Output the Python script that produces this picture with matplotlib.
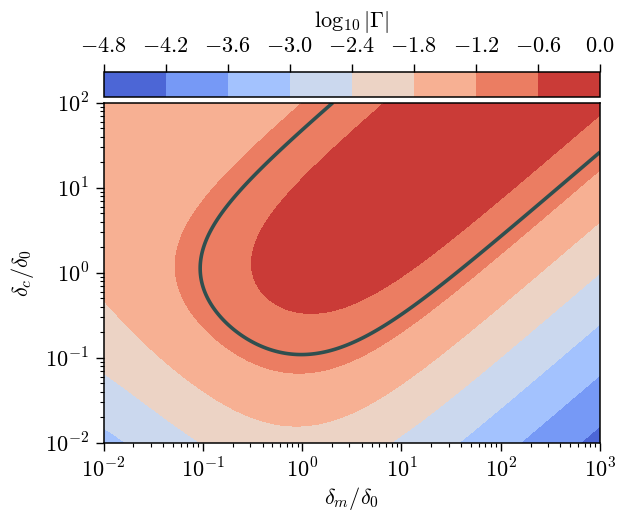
import numpy as np
import matplotlib
matplotlib.use("Agg")
import matplotlib.pyplot as plt
from matplotlib import ticker

plt.rcParams['mathtext.fontset'] = 'cm'
plt.rcParams['axes.linewidth'] = 1.1

# ---- data ----
levels = [-4.8, -4.2, -3.6, -3.0, -2.4, -1.8, -1.2, -0.6, 0.0]
cbar_labels = [r'$-4.8$', r'$-4.2$', r'$-3.6$', r'$-3.0$', r'$-2.4$',
               r'$-1.8$', r'$-1.2$', r'$-0.6$', r'$0.0$']
x_ticks = [1e-2, 1e-1, 1e0, 1e1, 1e2, 1e3]
x_ticklabels = [r'$10^{-2}$', r'$10^{-1}$', r'$10^{0}$', r'$10^{1}$', r'$10^{2}$', r'$10^{3}$']
y_ticks = [1e-2, 1e-1, 1e0, 1e1, 1e2]
y_ticklabels = [r'$10^{-2}$', r'$10^{-1}$', r'$10^{0}$', r'$10^{1}$', r'$10^{2}$']
x_range = [1e-2, 1e3]      # delta_m / delta_0
y_range = [1e-2, 1e2]      # delta_c / delta_0
# coupling-model coefficients: offset, x-loss, y-loss, leak amplitude, leak scale
coef = [0.75, 2.2, 2.0, 0.026, 1.5]
marked_level = [-1.0]

# ---- field ----
a, b, c, e, f = coef
xm = np.logspace(np.log10(x_range[0]), np.log10(x_range[1]), 700)
yc = np.logspace(np.log10(y_range[0]), np.log10(y_range[1]), 560)
X, Y = np.meshgrid(xm, yc)
main = 4 * X * Y / ((X + Y) ** 2 + a + b * X + c * Y)
leak = e * Y / (X + Y + f)
G = main + leak * (1 - main)
Z = np.log10(G)

# ---- figure ----
fig = plt.figure(figsize=(6.17, 5.11), dpi=100)
ax = fig.add_axes([103.5 / 617, 1 - 442.7 / 511, (600 - 103.5) / 617, (442.7 - 102.7) / 511])
cf = ax.contourf(X, Y, Z, levels=levels, cmap='coolwarm')
ax.contour(X, Y, Z, levels=marked_level, colors='#2f4f4f', linewidths=2.6,
           linestyles='solid')
ax.set_xscale('log')
ax.set_yscale('log')
ax.set_xlim(*x_range)
ax.set_ylim(*y_range)

ax.xaxis.set_major_locator(ticker.FixedLocator(x_ticks))
ax.xaxis.set_major_formatter(ticker.FixedFormatter(x_ticklabels))
ax.yaxis.set_major_locator(ticker.FixedLocator(y_ticks))
ax.yaxis.set_major_formatter(ticker.FixedFormatter(y_ticklabels))
ax.xaxis.set_minor_locator(ticker.LogLocator(base=10, subs=np.arange(2, 10), numticks=20))
ax.yaxis.set_minor_locator(ticker.LogLocator(base=10, subs=np.arange(2, 10), numticks=20))
ax.xaxis.set_minor_formatter(ticker.NullFormatter())
ax.yaxis.set_minor_formatter(ticker.NullFormatter())
ax.tick_params(which='major', length=5.5, width=1.0, labelsize=16, pad=5)
ax.tick_params(which='minor', length=3, width=0.8)

ax.set_xlabel(r'$\delta_m/\delta_0$', fontsize=16, labelpad=3)
ax.set_ylabel(r'$\delta_c/\delta_0$', fontsize=16, labelpad=6)

cax = fig.add_axes([103.5 / 617, 1 - 96.7 / 511, (600 - 103.5) / 617, (96.7 - 72.3) / 511])
cb = fig.colorbar(cf, cax=cax, orientation='horizontal')
cb.set_ticks(levels)
cb.set_ticklabels(cbar_labels)
cax.xaxis.set_ticks_position('top')
cax.xaxis.set_label_position('top')
cax.tick_params(length=5.5, width=1.0, labelsize=16, pad=6)
cb.outline.set_linewidth(1.1)
cb.set_label(r'$\log_{10}|\Gamma|$', fontsize=16, labelpad=7)

fig.savefig('out.png', dpi=100)
